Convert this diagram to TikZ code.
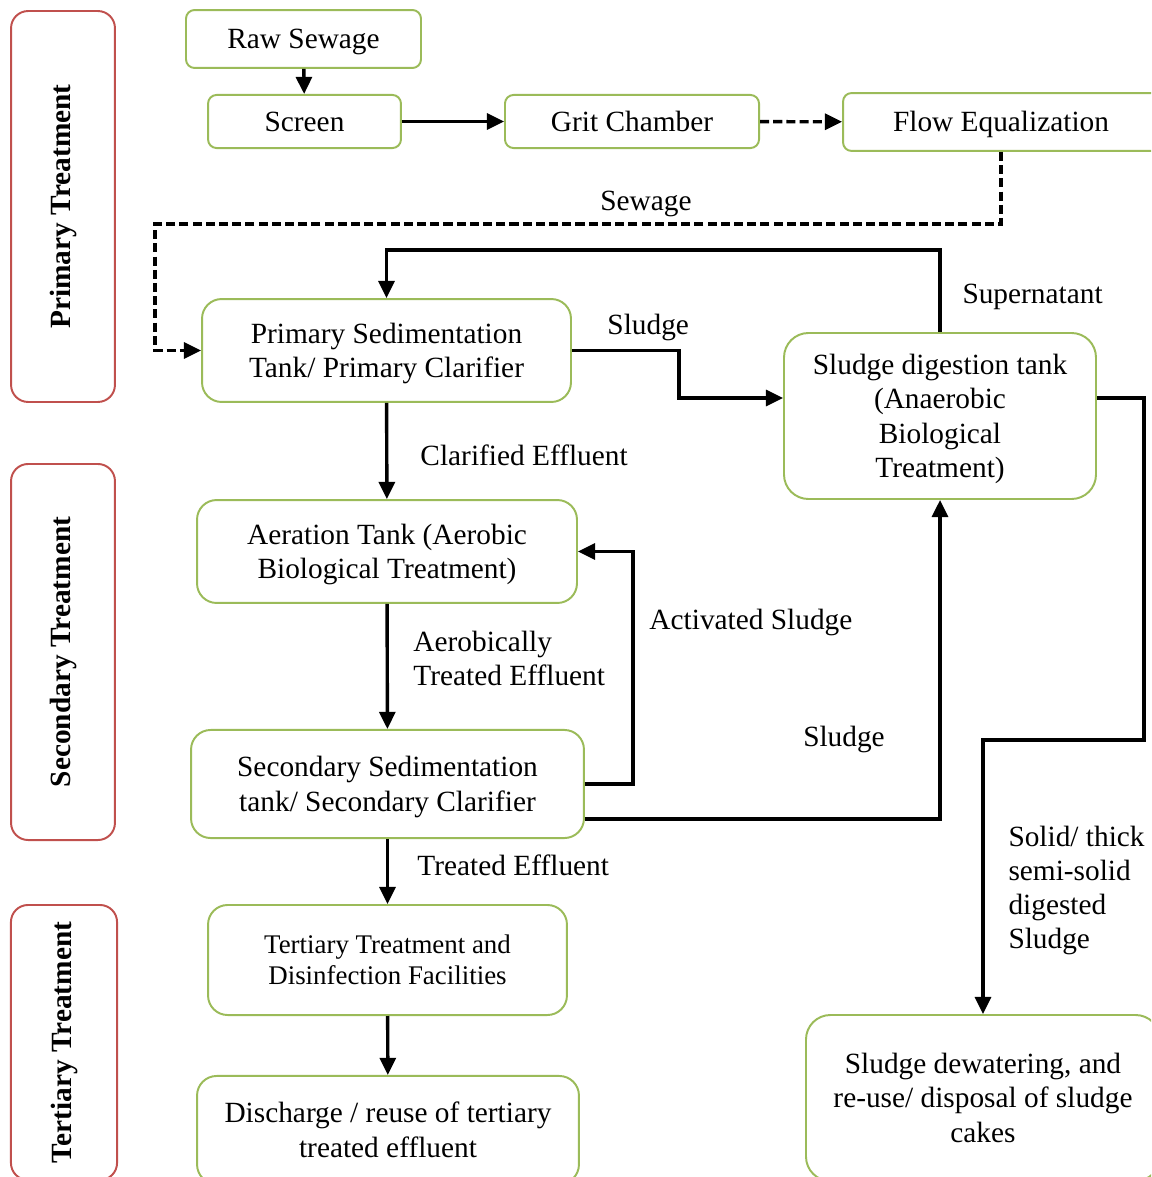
\documentclass[tikz,border=0pt]{standalone}
\usepackage{fontspec}
\setmainfont{Liberation Serif}
\usetikzlibrary{arrows.meta, positioning, calc}
\definecolor{boxgreen}{RGB}{155,187,89}
\definecolor{boxred}{RGB}{192,80,77}
\newcommand\linestrut{\rule[-0.216em]{0pt}{1.107em}}
\tikzset{
	>={Triangle[length=7pt,width=6.5pt]}, % filled triangular heads
	txt/.style={font=\fontsize{12}{14}\selectfont, execute at begin node=\linestrut, execute at end node=\linestrut}, % text size of the whole chart
	unit/.style={txt, draw=boxgreen, line width=0.8pt, align=center, inner sep=0pt}, % the green process boxes
	stage/.style={draw=boxred, line width=0.8pt, rounded corners=7pt, rotate=90, inner sep=0pt, font=\fontsize{12}{14}\selectfont\bfseries}, % red boxes on the left
	flow/.style={->, line width=1.4pt}, % solid connector
	bypass/.style={flow, dash pattern=on 3.7pt off 1.7pt}, % dashed connector
	lbl/.style={txt, inner sep=0pt}, % connector labels
}
\begin{document}
\begin{tikzpicture}[x=0.409pt, y=-0.409pt]
	\clip (0,0) rectangle (1151,1177);
	% treatment stages
	\node[stage, minimum width=159.9pt, minimum height=42.5pt] (primary) at (63,206.5) {Primary Treatment};
	\node[stage, minimum width=153.8pt, minimum height=42.5pt] (secondary) at (63,652) {Secondary Treatment};
	\node[stage, minimum width=112.5pt, minimum height=43.4pt] (tertiary) at (64,1042.5) {Tertiary Treatment};
	% process units
	\node[unit, rounded corners=3.5pt, minimum width=96.1pt, minimum height=23.7pt] (raw) at (303.5,39) {Raw Sewage};
	\node[unit, rounded corners=3.5pt, minimum width=78.9pt, minimum height=21.7pt] (screen) at (304.5,121.5) {Screen};
	\node[unit, rounded corners=3.5pt, minimum width=103.9pt, minimum height=21.7pt] (grit) at (632,121.5) {Grit Chamber};
	\node[unit, rounded corners=3.5pt, minimum width=129.2pt, minimum height=23.7pt] (equal) at (1001,122) {Flow Equalization};
	\node[unit, rounded corners=8pt, minimum width=150.9pt, minimum height=42.1pt] (prim) at (386.5,350.5) {\linestrut Primary Sedimentation\\Tank/ Primary Clarifier};
	\node[unit, rounded corners=10pt, minimum width=127.6pt, minimum height=67.9pt] (dig) at (940,416) {\linestrut Sludge digestion tank\\(Anaerobic\\Biological\\Treatment)};
	\node[unit, rounded corners=8pt, minimum width=155.4pt, minimum height=42.1pt] (aer) at (387,551.5) {\linestrut Aeration Tank (Aerobic\\Biological Treatment)};
	\node[unit, rounded corners=8pt, minimum width=160.7pt, minimum height=44.2pt] (sec) at (387.5,784) {\linestrut Secondary Sedimentation\\tank/ Secondary Clarifier};
	\node[unit, rounded corners=8pt, minimum width=146.8pt, minimum height=45pt, font=\fontsize{11}{12.7}\selectfont] (ter) at (387.5,960) {\linestrut Tertiary Treatment and\\Disinfection Facilities};
	\node[unit, rounded corners=8pt, minimum width=156.2pt, minimum height=44.2pt] (dis) at (388,1130) {\linestrut Discharge / reuse of tertiary\\treated effluent};
	\node[unit, rounded corners=10pt, minimum width=144.8pt, minimum height=67.9pt] (dew) at (983,1098) {\linestrut Sludge dewatering, and\\re-use/ disposal of sludge\\cakes};
	% connectors
	\draw[flow] (raw) -- (screen);
	\draw[flow] (screen) -- (grit);
	\draw[bypass] (grit) -- (equal);
	\draw[bypass] (equal.south) |- (155,224) |- (prim.west);
	\draw[flow] (dig.north) -- ++(0,-82) -| (prim.north);
	\draw[flow] (prim.east) -- ++(107,0) |- ($(dig.west)+(0,-18)$);
	\draw[flow] (prim) -- (aer);
	\draw[flow] (aer) -- (sec);
	\draw[flow] (sec.east) -- ++(48,0) |- (aer.east);
	\draw[flow] ($(sec.east)+(0,35)$) -| (dig.south);
	\draw[flow] (sec) -- (ter);
	\draw[flow] (ter) -- (dis);
	\draw[flow] ($(dig.east)+(0,-18)$) -| ++(47,342) -| (dew.north);
	% labels
	\node[lbl] (l-sewage) at (646,201) {Sewage};
	\node[lbl, anchor=west] (l-super) at (962,294) {Supernatant};
	\node[lbl, anchor=west] (l-sludge1) at (607,325) {Sludge};
	\node[lbl, anchor=west] (l-clar) at (420,456) {Clarified Effluent};
	\node[lbl, anchor=west, align=left] (l-aerob) at (413,658.5) {\linestrut Aerobically\\Treated Effluent};
	\node[lbl, anchor=west] (l-act) at (649,620) {Activated Sludge};
	\node[lbl] (l-sludge2) at (844,737) {Sludge};
	\node[lbl, anchor=west] (l-treat) at (417,866) {Treated Effluent};
	\node[lbl, anchor=west, align=left] (l-solid) at (1008,887.5) {\linestrut Solid/ thick\\semi-solid\\digested\\Sludge};
\end{tikzpicture}
\end{document}
